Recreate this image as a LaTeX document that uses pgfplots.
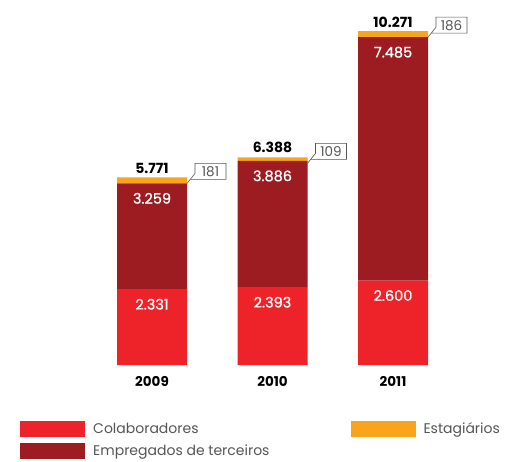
\documentclass[border=0pt]{standalone}
\usepackage{fontspec}
\setmainfont{Poppins}
\usepackage{pgfplots}
\pgfplotsset{compat=1.18}
\definecolor{colab}{HTML}{EE2229}
\definecolor{emp}{HTML}{9C1C21}
\definecolor{est}{HTML}{F9A51B}
\definecolor{txtgray}{HTML}{555555}

% callout box next to the top of a bar: #1 = x, #2 = total, #3 = text
\newcommand\callout[3]{%
  \draw[txtgray, line width=0.6pt] ([xshift=35pt,yshift=-6pt]axis cs:#1,#2)
    -- ++(8pt,10pt) -- ++(0pt,10pt) -- ++(31pt,0pt) -- ++(0pt,-16pt) -- ++(-35.8pt,0pt);
  \node[txtgray, font=\fontsize{13.5}{15}\selectfont, anchor=center, inner sep=0pt]
    at ([xshift=58.5pt,yshift=6pt]axis cs:#1,#2) {#3};}

\begin{document}
\begin{tikzpicture}
\useasboundingbox (0,0) rectangle (505pt,461pt);
\begin{axis}[
    at={(91.75pt,96pt)}, anchor=south west,
    scale only axis, width=361.5pt, height=341.25pt,
    xmin=-0.5, xmax=2.5, ymin=0, ymax=10500,
    clip=false,
    ybar stacked, bar width=70pt,
    axis line style={draw=none},
    major tick length=0pt,
    ytick=\empty,
    xtick={0,1,2}, xticklabels={2009,2010,2011},
    xticklabel style={anchor=center, yshift=-16pt, font=\bfseries\fontsize{13.5}{15}\selectfont, text=black},
    legend columns=2,
    legend style={at={(axis description cs:-0.19848,-0.16410)}, anchor=north west,
        draw=none, fill=none, inner sep=0pt, row sep=6pt,
        nodes={inner sep=0pt, text=txtgray, font=\fontsize{14}{16}\selectfont},
        /tikz/every odd column/.style={column sep=8pt},
        /tikz/every even column/.style={column sep=81pt}},
    legend cell align=left,
    legend image code/.code={\path[fill] (0pt,-8pt) rectangle (65pt,8pt);},
]
\addlegendimage{fill=colab, draw=none}
\addlegendentry{Colaboradores}
\addlegendimage{fill=est, draw=none}
\addlegendentry{Estagiários}
\addlegendimage{fill=emp, draw=none}
\addlegendentry{Empregados de terceiros}

\addplot[fill=colab, draw=none, forget plot]
    coordinates {(0,2331) (1,2393) (2,2600)};
\addplot[fill=emp, draw=none, forget plot]
    coordinates {(0,3259) (1,3886) (2,7485)};
\addplot[fill=est, draw=none, forget plot,
    point meta=explicit symbolic, nodes near coords,
    every node near coord/.append style={anchor=center, yshift=12pt, text=black, font=\bfseries\fontsize{14}{16}\selectfont}]
    coordinates {(0,181) [5.771] (1,109) [6.388] (2,186) [10.271]};

% tops of the red and dark red segments, labelled after the axis
\coordinate (a0) at (axis cs:0,2331);
\coordinate (a1) at (axis cs:1,2393);
\coordinate (a2) at (axis cs:2,2600);
\coordinate (b0) at (axis cs:0,5590);
\coordinate (b1) at (axis cs:1,6279);
\coordinate (b2) at (axis cs:2,10085);

\callout{0}{5771}{181}
\callout{1}{6388}{109}
\callout{2}{10271}{186}
\end{axis}
\begin{scope}[every node/.style={text=white, font=\fontsize{14.5}{16}\selectfont\addfontfeatures{FakeBold=1}, anchor=center, inner sep=0pt, yshift=-15pt}]
\node at (a0) {2.331};
\node at (a1) {2.393};
\node at (a2) {2.600};
\node at (b0) {3.259};
\node at (b1) {3.886};
\node at (b2) {7.485};
\end{scope}
\end{tikzpicture}
\end{document}
